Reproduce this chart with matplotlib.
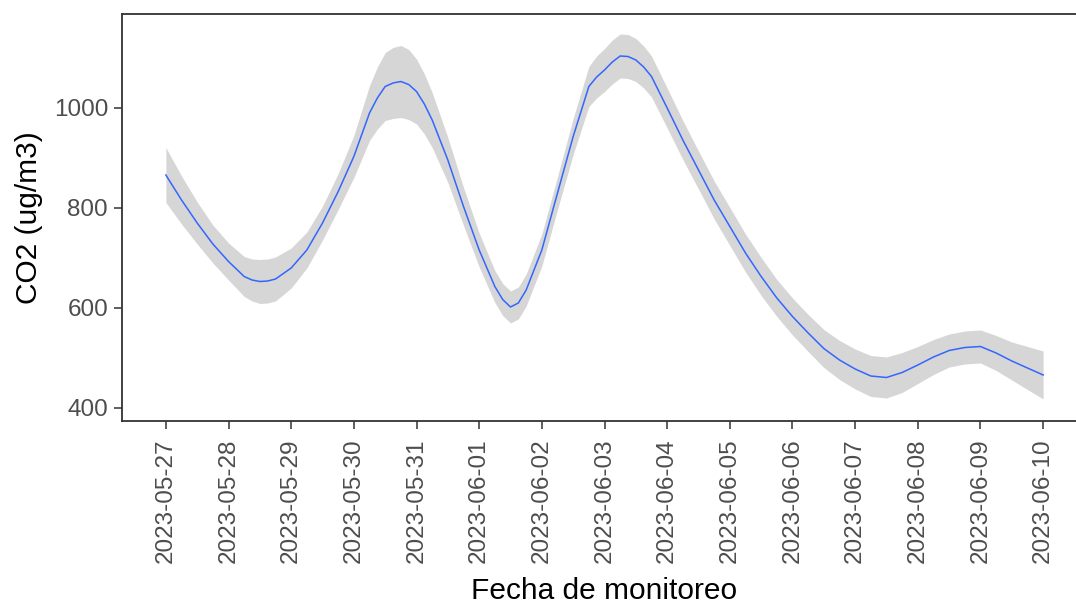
import matplotlib
matplotlib.use("Agg")
import matplotlib.pyplot as plt
import matplotlib.dates as mdates
import numpy as np
import pandas as pd

# Smoothed CO2 curve, sample times in hours after 2023-05-27 00:00
hours = [0, 6, 12, 18, 24, 30, 33, 36, 39, 42, 48, 54, 60, 66, 72, 78, 81, 84,
         87, 90, 93, 96, 99, 102, 108, 114, 120, 126, 129, 132, 135, 138, 144,
         150, 156, 162, 165, 168, 171, 174, 177, 180, 183, 186, 192, 198, 204,
         210, 216, 222, 228, 234, 240, 246, 252, 258, 264, 270, 276, 282, 288,
         294, 300, 306, 312, 318, 324, 330, 336]
co2 = [866, 816, 770, 728, 693, 663, 656, 653, 654, 658, 680, 716, 770, 833,
       903, 990, 1020, 1043, 1050, 1053, 1047, 1033, 1008, 976, 896, 803, 716,
       643, 617, 602, 610, 636, 716, 830, 943, 1043, 1062, 1076, 1092, 1104,
       1103, 1096, 1082, 1063, 1000, 936, 876, 816, 763, 710, 663, 620, 583,
       550, 519, 496, 478, 464, 461, 471, 486, 502, 515, 521, 523, 510, 494,
       480, 466]
se = [55, 48, 42, 38, 37, 40, 42, 44, 44, 44, 40, 36, 34, 36, 42, 55, 62, 68,
      71, 72, 70, 65, 60, 55, 45, 38, 34, 32, 32, 32, 32, 32, 32, 33, 36, 40,
      42, 43, 44, 44, 44, 43, 42, 41, 40, 39, 38, 38, 38, 38, 38, 37, 37, 37,
      38, 39, 40, 41, 41, 40, 37, 35, 33, 33, 33, 35, 38, 43, 48]
start_date = "2023-05-27"
tick_dates = pd.date_range("2023-05-27", "2023-06-10", freq="D")
y_ticks = [400, 600, 800, 1000]

times = pd.Timestamp(start_date) + pd.to_timedelta(hours, unit="h")
co2 = np.array(co2, dtype=float)
se = np.array(se, dtype=float)

plt.rcParams['font.family'] = ['Liberation Sans', 'DejaVu Sans']

fig = plt.figure(figsize=(10.76, 6.04), dpi=100)
ax = fig.add_axes([122/1076, 1 - 420.7/604, 965/1076, (420.7 - 14)/604])

ax.fill_between(times, co2 - se, co2 + se, color="#999999", alpha=0.4, linewidth=0)
ax.plot(times, co2, color="#3366FF", linewidth=1.1)

x0 = mdates.date2num(tick_dates[0])
x1 = mdates.date2num(tick_dates[-1])
pad = (x1 - x0) * 0.05
ax.set_xlim(x0 - pad, x1 + pad)
ax.set_ylim(374.6, 1188)

ax.set_xticks(tick_dates)
ax.xaxis.set_major_formatter(mdates.DateFormatter("%Y-%m-%d"))
ax.set_yticks(y_ticks)

for lab in ax.get_xticklabels():
    lab.set_rotation(90)

ax.tick_params(axis="both", colors="#333333", length=6, width=1.1, labelsize=17.5,
               labelcolor="#4D4D4D")
ax.tick_params(axis="x", pad=7)
ax.tick_params(axis="y", pad=4)
for s in ax.spines.values():
    s.set_color("#333333")
    s.set_linewidth(1.3)

ax.set_xlabel("Fecha de monitoreo", fontsize=21.5, color="black", labelpad=10)
ax.set_ylabel("CO2 (ug/m3)", fontsize=21.5, color="black", labelpad=8)

fig.savefig("out.png", dpi=100, facecolor="white")
